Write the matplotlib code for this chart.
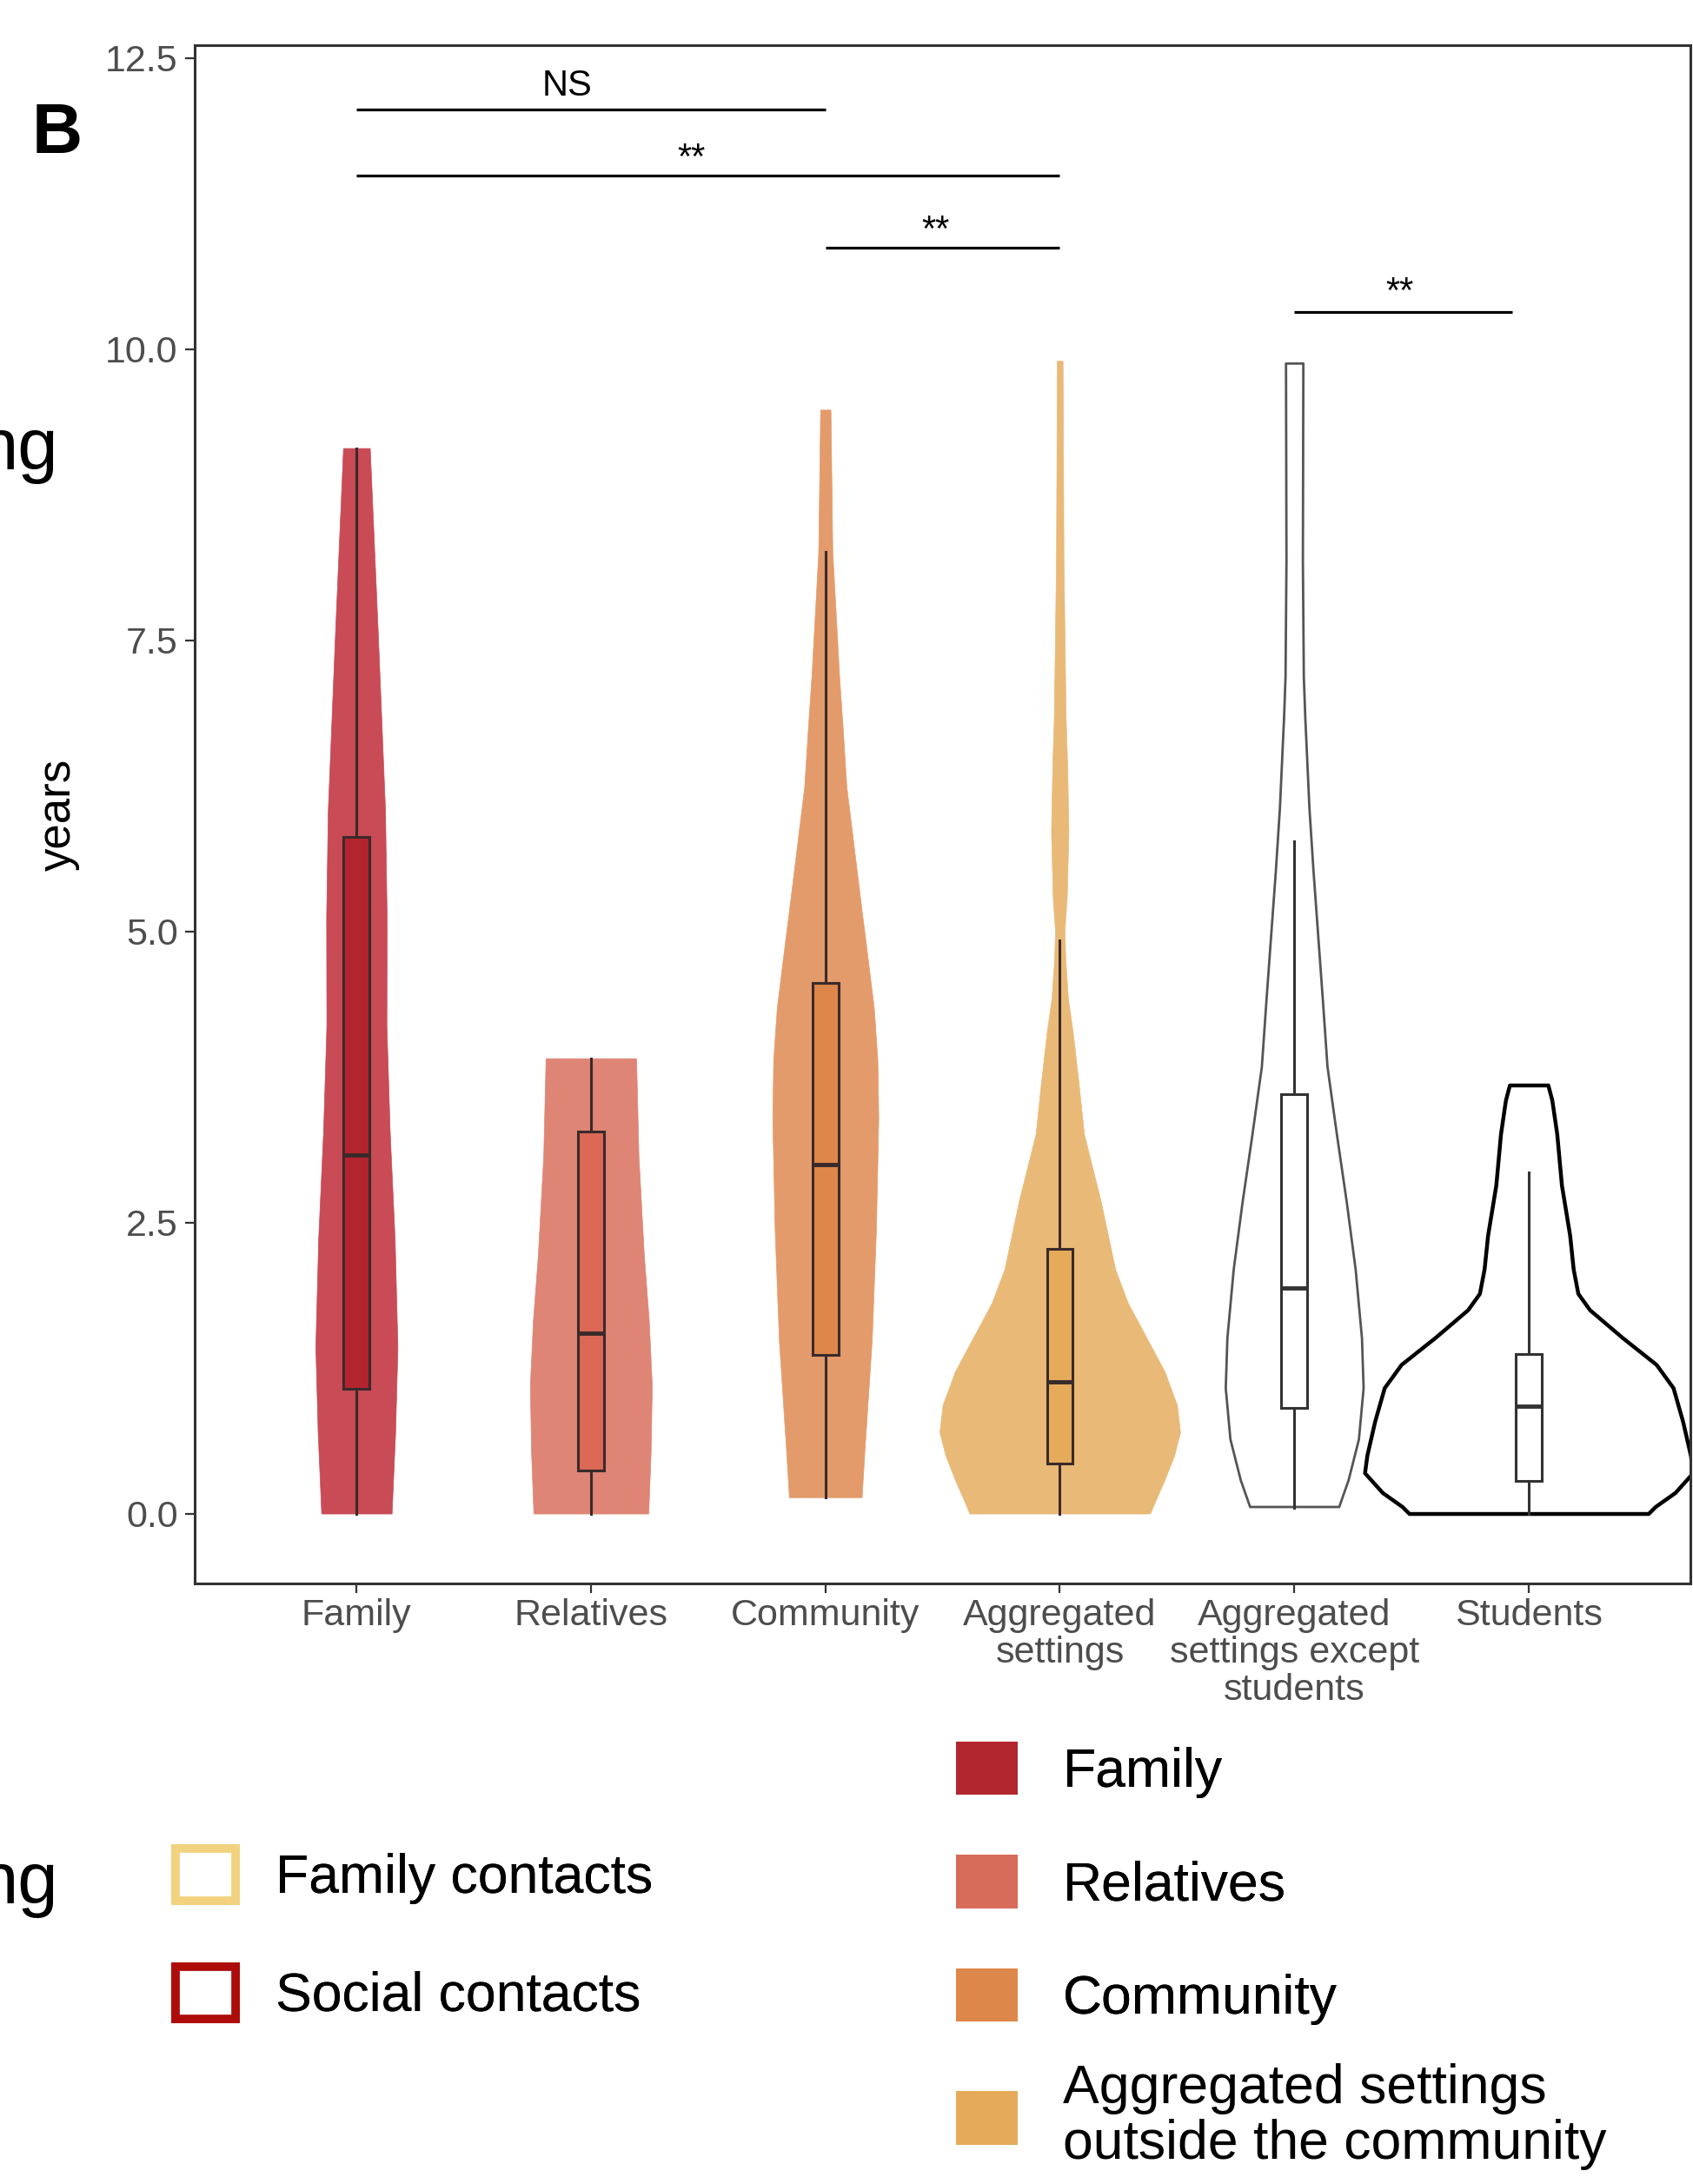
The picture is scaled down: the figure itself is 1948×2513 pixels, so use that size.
import matplotlib
matplotlib.use('Agg')
import matplotlib.pyplot as plt
from matplotlib.patches import Patch
import numpy as np

plt.rcParams['font.family'] = ['Liberation Sans', 'DejaVu Sans']

categories = ['Family', 'Relatives', 'Community', 'Aggregated\nsettings',
              'Aggregated\nsettings except\nstudents', 'Students']

# violin outlines: years and half width (category units)
family_y = [0.0, 0.69, 1.43, 2.36, 3.28, 4.19, 5.12, 6.04, 7.57, 9.15]
family_w = [0.150, 0.165, 0.175, 0.163, 0.142, 0.128, 0.129, 0.122, 0.091, 0.057]
relatives_y = [0.0, 0.53, 1.10, 1.66, 2.22, 3.07, 3.91]
relatives_w = [0.245, 0.255, 0.260, 0.247, 0.226, 0.203, 0.193]
community_y = [0.14, 0.54, 1.49, 2.44, 3.40, 3.90, 4.34, 4.78, 5.29, 5.80, 6.24,
               6.75, 7.19, 8.26, 9.48]
community_w = [0.155, 0.167, 0.198, 0.216, 0.226, 0.222, 0.207, 0.180, 0.148, 0.117,
               0.090, 0.074, 0.059, 0.030, 0.022]
aggregated_y = [0.0, 0.12, 0.29, 0.50, 0.70, 0.93, 1.22, 1.51, 1.81, 2.10, 2.68,
                3.26, 3.70, 4.14, 4.42, 4.75, 5.00, 5.30, 5.86, 6.40, 6.85, 8.18, 9.90]
aggregated_w = [0.385, 0.410, 0.447, 0.488, 0.513, 0.500, 0.447, 0.370, 0.290, 0.236,
                0.175, 0.103, 0.080, 0.055, 0.035, 0.024, 0.020, 0.030, 0.037, 0.032,
                0.025, 0.016, 0.012]
except_y = [0.06, 0.29, 0.64, 1.08, 1.51, 2.10, 2.68, 3.26, 3.84, 4.42, 5.53, 6.06,
            6.85, 7.19, 8.18, 9.88]
except_w = [0.190, 0.230, 0.274, 0.294, 0.287, 0.260, 0.222, 0.180, 0.140, 0.120,
            0.080, 0.063, 0.045, 0.039, 0.035, 0.037]
students_y = [0.0, 0.06, 0.18, 0.35, 0.50, 0.79, 1.08, 1.28, 1.51, 1.75, 1.89,
              2.10, 2.39, 2.82, 3.26, 3.55, 3.68]
students_w = [0.510, 0.540, 0.624, 0.700, 0.690, 0.657, 0.616, 0.544, 0.400, 0.260,
              0.210, 0.190, 0.175, 0.140, 0.120, 0.099, 0.082]

# box plot stats
q1 = [1.07, 0.37, 1.36, 0.43, 0.91, 0.28]
median = [3.08, 1.55, 3.00, 1.13, 1.94, 0.92]
q3 = [5.81, 3.28, 4.56, 2.27, 3.60, 1.37]
whisker_lo = [0.0, 0.0, 0.14, 0.0, 0.05, 0.0]
whisker_hi = [9.15, 3.91, 8.26, 4.92, 5.77, 2.93]

# significance brackets
sig_start = [1, 1, 3, 5]
sig_end = [3, 4, 4, 5.93]
sig_line_y = [12.06, 11.49, 10.87, 10.32]
sig_text_x = [1.9, 2.43, 3.47, 5.45]
sig_text_y = [12.18, 11.55, 10.93, 10.40]
sig_labels = ['NS', '**', '**', '**']

violin_fill = ['#C84B56', '#DE8575', '#E39B6B', '#E9B977', 'white', 'white']
violin_edge = ['#C84B56', '#DE8575', '#E39B6B', '#E9B977', '#555555', 'black']
violin_lw = [0.5, 0.5, 0.5, 0.5, 2.0, 3.2]
box_fill = ['#B4242F', '#DC6955', '#DD874A', '#E6AB5A', 'white', 'white']
box_edge = ['#3A2A2A', '#3A2A2A', '#3A2A2A', '#3A2A2A', '#333333', '#333333']

legend1_labels = ['Family contacts', 'Social contacts']
legend1_colors = ['#F2D27E', '#AE0B0B']
legend2_labels = ['Family', 'Relatives', 'Community']
legend2_colors = ['#B2262F', '#D86C5A', '#DD874B']
legend3_labels = ['Aggregated settings\noutside the community']
legend3_colors = ['#E5AA5A']

fig = plt.figure(figsize=(19.48, 25.13), dpi=100)
ax = fig.add_axes([0.115, 0.275, 0.8835, 0.7043])

violin_y = [family_y, relatives_y, community_y, aggregated_y, except_y, students_y]
violin_w = [family_w, relatives_w, community_w, aggregated_w, except_w, students_w]
for i in range(6):
    pos = i + 1
    ys = np.array(violin_y[i])
    hw = np.array(violin_w[i])
    ax.fill_betweenx(ys, pos - hw, pos + hw, facecolor=violin_fill[i],
                     edgecolor=violin_edge[i], linewidth=violin_lw[i],
                     joinstyle='round', zorder=1)

for i in range(6):
    stats = [dict(med=median[i], q1=q1[i], q3=q3[i],
                  whislo=whisker_lo[i], whishi=whisker_hi[i])]
    ax.bxp(stats, positions=[i + 1], widths=0.11, patch_artist=True,
           showfliers=False, showcaps=False, manage_ticks=False,
           boxprops=dict(facecolor=box_fill[i], edgecolor=box_edge[i], linewidth=2.2),
           whiskerprops=dict(color=box_edge[i], linewidth=2.2),
           medianprops=dict(color=box_edge[i], linewidth=3.5),
           zorder=2)

for i in range(len(sig_labels)):
    ax.plot([sig_start[i], sig_end[i]], [sig_line_y[i], sig_line_y[i]],
            color='black', linewidth=2.3, solid_capstyle='butt')
    ax.text(sig_text_x[i], sig_text_y[i], sig_labels[i], ha='center',
            va='baseline', fontsize=30, color='black')

ax.set_xlim(0.31, 6.69)
ax.set_ylim(-0.6, 12.61)
ax.set_xticks(range(1, 7))
ax.set_xticklabels(categories, fontsize=31, color='#4D4D4D', linespacing=1.1)
ax.set_yticks([0, 2.5, 5, 7.5, 10, 12.5])
ax.set_yticklabels(['0.0', '2.5', '5.0', '7.5', '10.0', '12.5'], fontsize=31, color='#4D4D4D')
ax.tick_params(axis='both', length=8, width=1.6, color='#333333')
ax.tick_params(axis='y', pad=6)
ax.tick_params(axis='x', pad=4)
for s in ax.spines.values():
    s.set_color('#333333')
    s.set_linewidth(2.2)

ax.set_ylabel('years', fontsize=38)
ax.yaxis.set_label_coords(-0.077, 0.5)

# panel letter and the edges of neighbouring panels' texts
fig.text(66 / 1948, 1 - 155 / 2513, 'B', fontsize=58, fontweight='bold',
         ha='center', va='center')
fig.text(67 / 1948, 1 - 540 / 2513, 'ng', fontsize=60, ha='right', va='baseline')
fig.text(67 / 1948, 1 - 2190 / 2513, 'ng', fontsize=60, ha='right', va='baseline')

h1 = [Patch(facecolor='white', edgecolor=c, linewidth=7) for c in legend1_colors]
leg1 = fig.legend(h1, legend1_labels, loc='upper left',
                  bbox_to_anchor=(202 / 1948, 1 - 2127 / 2513), frameon=False,
                  fontsize=45, handlelength=1.1, handleheight=1.1,
                  handletextpad=0.74, labelspacing=1.14, borderpad=0,
                  borderaxespad=0)

h2 = [Patch(facecolor=c, edgecolor='none') for c in legend2_colors]
leg2 = fig.legend(h2, legend2_labels, loc='upper left',
                  bbox_to_anchor=(1100 / 1948, 1 - 2004 / 2513), frameon=False,
                  fontsize=45, handlelength=1.13, handleheight=1.13,
                  handletextpad=0.84, labelspacing=1.05, borderpad=0,
                  borderaxespad=0)
fig.add_artist(leg1)

h3 = [Patch(facecolor=c, edgecolor='none') for c in legend3_colors]
leg3 = fig.legend(h3, legend3_labels, loc='upper left',
                  bbox_to_anchor=(1100 / 1948, 1 - 2374 / 2513), frameon=False,
                  fontsize=45, handlelength=1.13, handleheight=1.13,
                  handletextpad=0.84, borderpad=0, borderaxespad=0)
for t in leg3.get_texts():
    t.set_linespacing(1.1)
fig.add_artist(leg2)

fig.savefig('out.png', dpi=100)
